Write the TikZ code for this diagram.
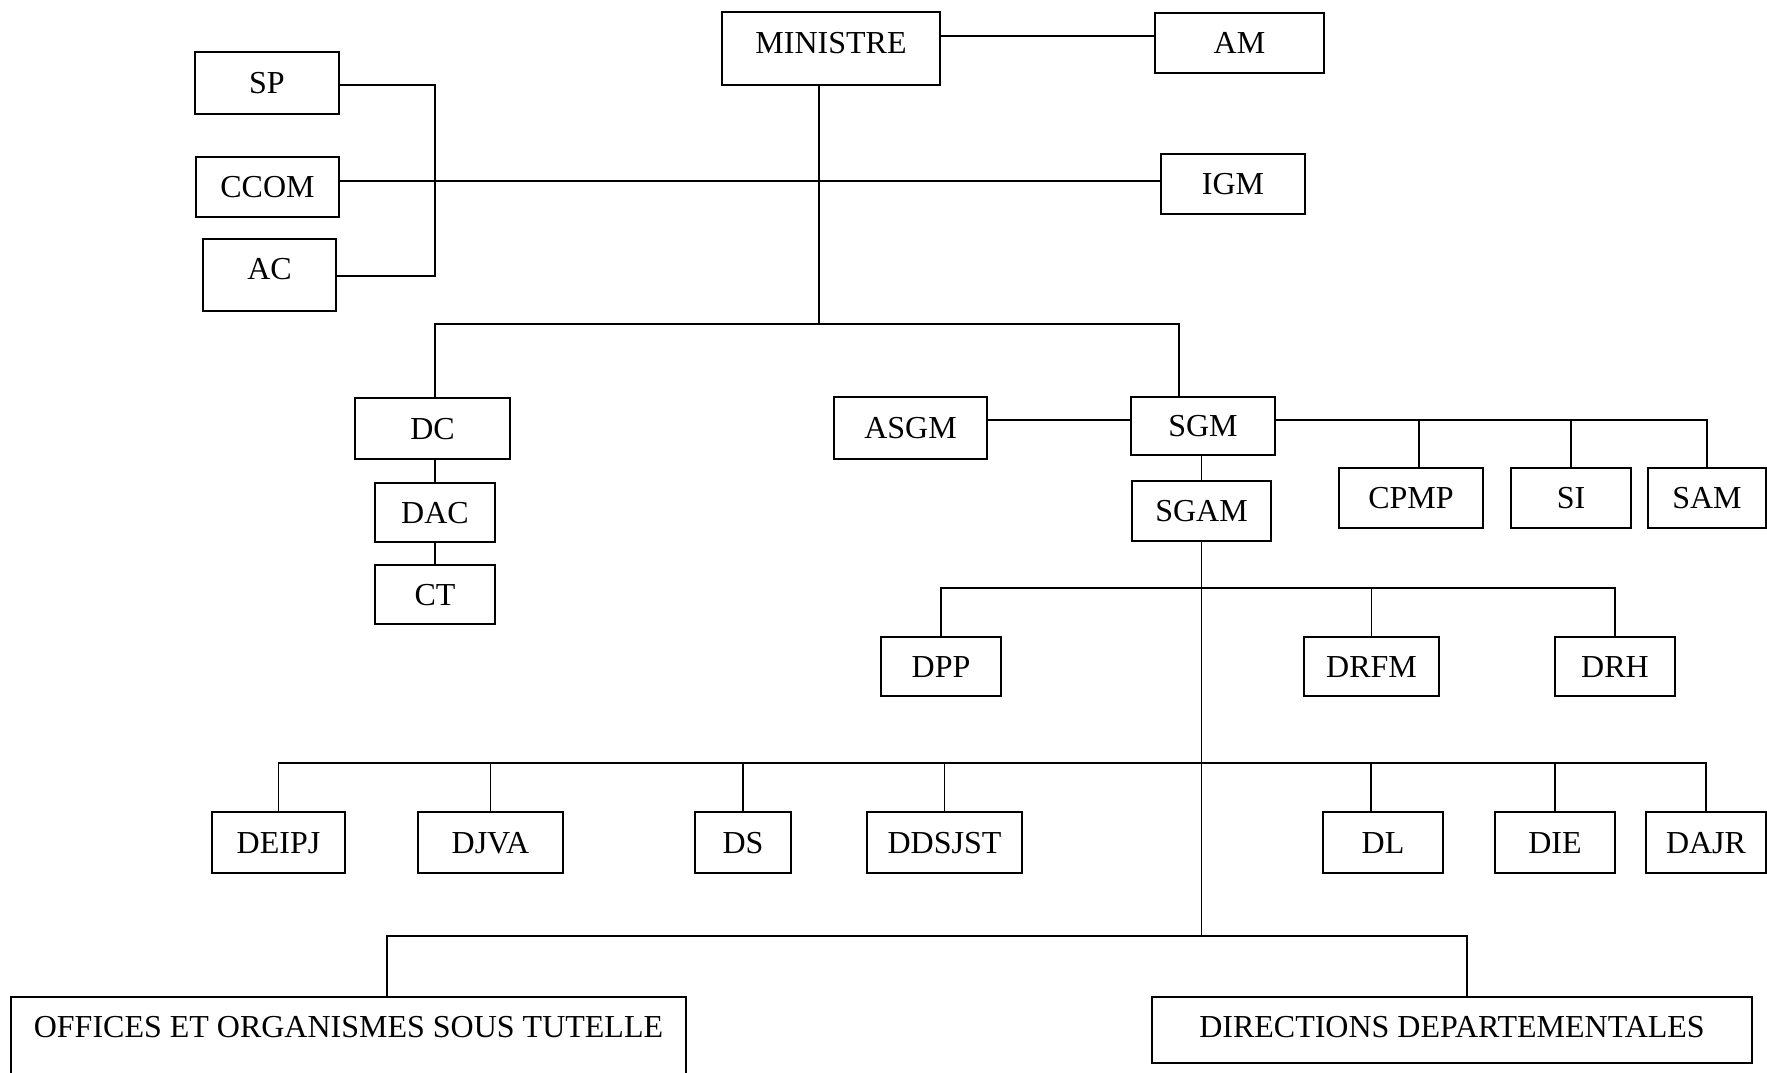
\documentclass[tikz,border=0pt]{standalone}
\usepackage{fontspec}
\setmainfont{Liberation Serif}
\usetikzlibrary{positioning}

\begin{document}
\begin{tikzpicture}[x=1pt, y=-1pt,
    unit/.style={rectangle, draw, line width=0.8pt, inner sep=0pt,
                 text height=10.6pt, text depth=0pt, font=\fontsize{16}{19}\selectfont},
    lift/.style={text depth=#1},
    link/.style={line width=0.7pt}
]
\useasboundingbox (0,0) rectangle (883.5,536);

\node[unit, minimum width=109pt, minimum height=36.5pt, lift=5.5pt] (ministre) at (415.5,24.25) {MINISTRE};
\node[unit, minimum width=84.5pt, minimum height=30pt] (am) at (619.75,21.5) {AM};
\node[unit, minimum width=72pt, minimum height=31pt] (sp) at (133.5,41.5) {SP};
\node[unit, minimum width=71.5pt, minimum height=30pt] (ccom) at (133.75,93.5) {CCOM};
\node[unit, minimum width=66.5pt, minimum height=36pt, lift=6.5pt] (ac) at (134.75,137.5) {AC};
\node[unit, minimum width=72pt, minimum height=30pt] (igm) at (616.5,92) {IGM};

\node[unit, minimum width=77.5pt, minimum height=30.5pt] (dc) at (216.25,214.25) {DC};
\node[unit, minimum width=60pt, minimum height=29.5pt] (dac) at (217.5,256.25) {DAC};
\node[unit, minimum width=60pt, minimum height=29.5pt] (ct) at (217.5,297.25) {CT};
\node[unit, minimum width=76.5pt, minimum height=31pt] (asgm) at (455.25,214) {ASGM};
\node[unit, minimum width=72pt, minimum height=29pt] (sgm) at (601.5,213) {SGM};
\node[unit, minimum width=69.5pt, minimum height=30pt] (sgam) at (600.75,255.5) {SGAM};
\node[unit, minimum width=72pt, minimum height=30pt] (cpmp) at (705.5,249) {CPMP};
\node[unit, minimum width=60pt, minimum height=30pt] (si) at (785.5,249) {SI};
\node[unit, minimum width=59pt, minimum height=30pt] (sam) at (853.5,249) {SAM};

\node[unit, minimum width=60pt, minimum height=29.5pt] (dpp) at (470.5,333.25) {DPP};
\node[unit, minimum width=67.5pt, minimum height=29.5pt] (drfm) at (685.75,333.25) {DRFM};
\node[unit, minimum width=60pt, minimum height=29.5pt] (drh) at (807.5,333.25) {DRH};

\node[unit, minimum width=66.5pt, minimum height=30.5pt] (deipj) at (139.25,421.25) {DEIPJ};
\node[unit, minimum width=72.5pt, minimum height=30.5pt] (djva) at (245.25,421.25) {DJVA};
\node[unit, minimum width=48pt, minimum height=30.5pt] (ds) at (371.5,421.25) {DS};
\node[unit, minimum width=77.5pt, minimum height=30.5pt] (ddsjst) at (472.25,421.25) {DDSJST};
\node[unit, minimum width=60pt, minimum height=30.5pt] (dl) at (691.5,421.25) {DL};
\node[unit, minimum width=60pt, minimum height=30.5pt] (die) at (777.5,421.25) {DIE};
\node[unit, minimum width=60pt, minimum height=30.5pt] (dajr) at (853,421.25) {DAJR};

\node[unit, minimum width=337.5pt, minimum height=39.5pt, lift=9.5pt] (offices) at (174.25,518.25) {OFFICES ET ORGANISMES SOUS TUTELLE};
\node[unit, minimum width=300pt, minimum height=33pt, lift=3pt] (directions) at (726,515) {DIRECTIONS DEPARTEMENTALES};

% bar levels
\coordinate (trunk) at (409.5,162);
\coordinate (barL) at (217.5,162);
\coordinate (barR) at (589.5,162);
\coordinate (sgmbar) at (0,210);
\coordinate (dirbar) at (0,294);
\coordinate (rowbar) at (0,381.5);
\coordinate (offTop) at (193.5,468);
\coordinate (dirTop) at (733.5,468);
\path ([xshift=4pt]cpmp.north) coordinate (cpmpTop);
\path ([xshift=-6pt]dl.north) coordinate (dlTop);

% top level
\draw[link] (ministre.east |- 0,18) -- (am.west |- 0,18);
\draw[link] (ministre.south -| trunk) -- (trunk);
\draw[link] (ccom.east |- 0,90.5) -- (igm.west |- 0,90.5);
\draw[link] (sp.east |- 0,42.5) -| (217.5,138) -- (ac.east |- 0,138);
\draw[link] (dc.north -| barL) -- (barL) -- (barR) -- (sgm.north -| barR);

% cabinet
\draw[link] (dac.north |- dc.south) -- (dac.north);
\draw[link] (ct.north |- dac.south) -- (ct.north);

% secretariat
\draw[link] (asgm.east |- sgmbar) -- (sgm.west |- sgmbar);
\draw[link] (sgm.east |- sgmbar) -| (sam.north);
\draw[link] (cpmpTop) -- (cpmpTop |- sgmbar);
\draw[link] (si.north) -- (si.north |- sgmbar);
\draw[link] (sgam.north |- sgm.south) -- (sgam.north);
\draw[link] (sgam.south) -- (sgam.south |- offTop);

% directions
\draw[link] (dpp.north) -- (dpp.north |- dirbar) -- (drh.north |- dirbar) -- (drh.north);
\draw[link] (drfm.north) -- (drfm.north |- dirbar);

\draw[link] (deipj.north) -- (deipj.north |- rowbar) -- (dajr.north |- rowbar) -- (dajr.north);
\draw[link] (djva.north) -- (djva.north |- rowbar);
\draw[link] (ds.north) -- (ds.north |- rowbar);
\draw[link] (ddsjst.north) -- (ddsjst.north |- rowbar);
\draw[link] (dlTop) -- (dlTop |- rowbar);
\draw[link] (die.north) -- (die.north |- rowbar);

\draw[link] (offices.north -| offTop) -- (offTop) -- (dirTop) -- (directions.north -| dirTop);

\end{tikzpicture}
\end{document}
